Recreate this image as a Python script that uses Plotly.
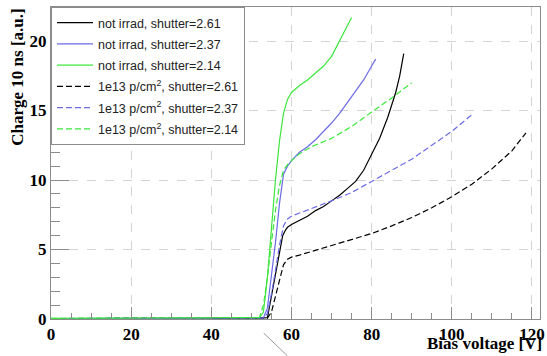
import plotly.graph_objects as go

# ---- data ----
names = ["not irrad, shutter=2.61", "not irrad, shutter=2.37", "not irrad, shutter=2.14",
         "1e13 p/cm<sup>2</sup>, shutter=2.61", "1e13 p/cm<sup>2</sup>, shutter=2.37",
         "1e13 p/cm<sup>2</sup>, shutter=2.14"]

x_ni261 = [0, 10, 20, 30, 40, 50, 54, 55, 56, 57, 57.8, 58.5, 59, 60, 62, 64, 66, 68, 70, 72, 74, 76, 78, 80, 82, 84, 86, 87, 88]
y_ni261 = [0.03, 0.03, 0.03, 0.03, 0.03, 0.03, 0.1, 1.6, 3.2, 4.8, 6.0, 6.4, 6.6, 6.8, 7.1, 7.4, 7.8, 8.1, 8.5, 8.9, 9.4, 9.9, 10.7, 11.8, 13.0, 14.5, 16.3, 17.5, 19.1]

x_ni237 = [0, 10, 20, 30, 40, 50, 53, 54, 55, 56, 57, 58, 59, 60, 62, 64, 66, 68, 70, 72, 74, 76, 78, 80, 81]
y_ni237 = [0.03, 0.03, 0.03, 0.03, 0.03, 0.03, 0.08, 0.8, 3.0, 5.5, 8.3, 10.4, 11.0, 11.4, 12.0, 12.4, 12.9, 13.5, 14.1, 14.8, 15.6, 16.4, 17.2, 18.2, 18.7]

x_ni214 = [0, 10, 20, 30, 40, 50, 52, 53, 54, 55, 56, 57, 58, 59, 60, 62, 64, 66, 68, 70, 72, 74, 75]
y_ni214 = [0.05, 0.05, 0.05, 0.05, 0.05, 0.05, 0.1, 0.5, 3.0, 6.5, 10.0, 12.8, 14.8, 15.8, 16.3, 16.8, 17.2, 17.7, 18.2, 18.9, 20.0, 21.1, 21.7]

x_ir261 = [0, 10, 20, 30, 40, 50, 54, 55, 56, 57, 58, 59, 60, 62, 65, 70, 75, 80, 85, 90, 95, 100, 105, 110, 115, 118.5]
y_ir261 = [0.03, 0.03, 0.03, 0.03, 0.03, 0.03, 0.06, 0.5, 1.6, 2.8, 3.9, 4.3, 4.45, 4.6, 4.85, 5.3, 5.7, 6.15, 6.7, 7.3, 8.0, 8.8, 9.7, 10.8, 12.1, 13.4]

x_ir237 = [0, 10, 20, 30, 40, 50, 53, 54, 55, 56, 57, 58, 59, 60, 62, 65, 70, 75, 80, 85, 90, 95, 100, 105]
y_ir237 = [0.03, 0.03, 0.03, 0.03, 0.03, 0.03, 0.06, 0.4, 1.8, 3.5, 5.3, 6.7, 7.2, 7.4, 7.6, 7.95, 8.5, 9.1, 9.9, 10.7, 11.5, 12.5, 13.5, 14.7]

x_ir214 = [0, 10, 20, 30, 40, 50, 52, 53, 54, 55, 56, 57, 58, 59, 60, 62, 65, 70, 75, 80, 85, 90]
y_ir214 = [0.05, 0.05, 0.05, 0.05, 0.05, 0.05, 0.1, 1.0, 3.0, 5.5, 7.8, 9.6, 10.7, 11.1, 11.4, 11.9, 12.4, 13.0, 13.85, 14.9, 15.9, 17.0]

x_ticks = [0, 20, 40, 60, 80, 100, 120]
y_ticks = [0, 5, 10, 15, 20]

series = [(x_ni261, y_ni261), (x_ni237, y_ni237), (x_ni214, y_ni214),
          (x_ir261, y_ir261), (x_ir237, y_ir237), (x_ir214, y_ir214)]
colors = ["#000000", "#6b6be6", "#3de63d", "#000000", "#6b6be6", "#3de63d"]
dashes = ["solid", "solid", "solid", "6px,3px", "6px,3px", "6px,3px"]

fig = go.Figure()
for i, ((xs, ys), nm, c, d) in enumerate(zip(series, names, colors, dashes)):
    fig.add_trace(go.Scatter(x=xs, y=ys, mode="lines", name=nm, legendgroup=f"g{i}",
                             line=dict(color=c, width=1.2, dash=d)))

serif = "Liberation Serif"
tfont = dict(family=serif, size=17, color="#000000", weight="bold")
axis_common = dict(showline=True, linecolor="#8c8c8c", linewidth=1, mirror=True,
                   showgrid=True, gridcolor="#d4d4d4", griddash="dash", gridwidth=1,
                   zeroline=False, ticks="inside", tickcolor="#8c8c8c",
                   tickfont=tfont, ticklabeloverflow="allow")

fig.update_layout(
    width=547, height=356,
    margin=dict(l=51, r=2, t=7, b=37),
    paper_bgcolor="white", plot_bgcolor="white",
    font=dict(family=serif, size=17, color="#000000", weight="bold"),
    xaxis=dict(range=[0, 122], tickmode="array", tickvals=x_ticks,
               ticktext=[f"<b>{v}</b>" for v in x_ticks], ticklen=12,
               minor=dict(dtick=5, ticks="inside", ticklen=6, tickcolor="#8c8c8c", showgrid=False),
               **axis_common),
    yaxis=dict(range=[0, 22.45], tickmode="array", tickvals=y_ticks,
               ticktext=[f"<b>{v}</b>" for v in y_ticks], ticklen=18,
               minor=dict(dtick=1, ticks="inside", ticklen=9, tickcolor="#8c8c8c", showgrid=False),
               **axis_common),
    showlegend=True,
    legend=dict(x=0, y=1, xanchor="left", yanchor="top",
                bgcolor="white", bordercolor="#8c8c8c", borderwidth=1,
                itemwidth=36, tracegroupgap=2,
                font=dict(family="Liberation Sans", size=12.5, color="#222", weight="normal")),
    annotations=[
        dict(text="<b>Bias voltage [V]</b>", xref="paper", yref="paper", x=1.008, y=-0.078,
             xanchor="right", yanchor="middle", showarrow=False,
             font=dict(family=serif, size=17, color="#000")),
        dict(text="<b>Charge 10 ns [a.u.]</b>", xref="paper", yref="paper", x=-0.069, y=1.0,
             xanchor="center", yanchor="top", textangle=-90, showarrow=False,
             font=dict(family=serif, size=17, color="#000")),
    ],
    shapes=[dict(type="line", xref="paper", yref="paper",
                 x0=0.435, y0=-0.045, x1=0.484, y1=-0.119,
                 line=dict(color="#9a9a9a", width=1))],
)

fig.write_html("out.html")
